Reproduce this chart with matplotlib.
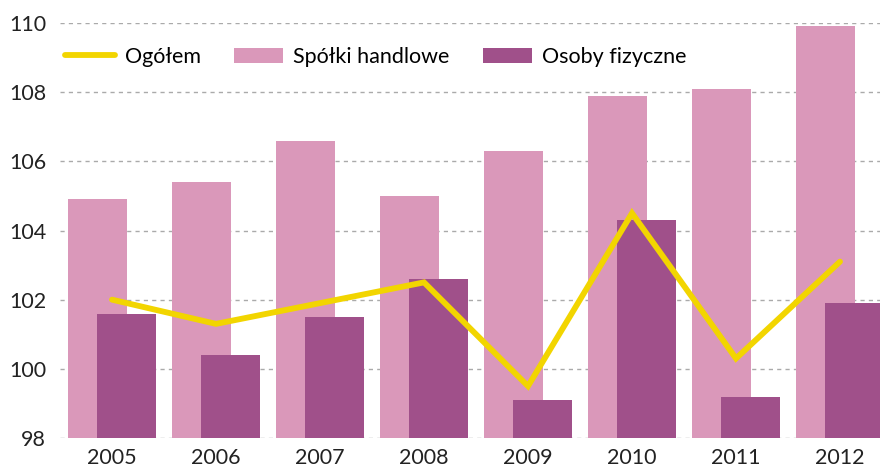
import matplotlib
matplotlib.use("Agg")
import matplotlib.pyplot as plt
import numpy as np

years = ["2005", "2006", "2007", "2008", "2009", "2010", "2011", "2012"]
spolki = [104.9, 105.4, 106.6, 105.0, 106.3, 107.9, 108.1, 109.9]
osoby = [101.6, 100.4, 101.5, 102.6, 99.1, 104.3, 99.2, 101.9]
ogolem = [102.0, 101.3, 101.9, 102.5, 99.5, 104.5, 100.3, 103.1]
yticks = [98, 100, 102, 104, 106, 108, 110]

plt.rcParams['font.family'] = ['Lato', 'DejaVu Sans']

W, H = 880, 468
fig = plt.figure(figsize=(W / 100, H / 100), dpi=100)
ax = fig.add_axes([60 / W, 30 / H, 1 - 60 / W, (438 - 23) / H])

x = np.arange(len(years))
bw = 0.567
off = 0.144
pink = "#DA98BA"
purple = "#A0508A"
yellow = "#F2D500"

b1 = ax.bar(x - off, [v - 98 for v in spolki], bw, bottom=98, color=pink, label="Spółki handlowe", zorder=2)
b2 = ax.bar(x + off, [v - 98 for v in osoby], bw, bottom=98, color=purple, label="Osoby fizyczne", zorder=3)
l1, = ax.plot(x, ogolem, color=yellow, lw=4.2, solid_capstyle='round', solid_joinstyle='miter', label="Ogółem", zorder=4)

ax.set_ylim(98, 110)
ax.set_xlim(-0.5, (W - 60) / 104 - 0.5)
ax.set_yticks(yticks)
ax.set_yticklabels([str(t) for t in yticks])
ax.set_xticks(x)
ax.set_xticklabels(years)
ax.tick_params(axis='both', length=0, labelsize=15.5, colors='#222222')
ax.tick_params(axis='y', pad=10)
ax.tick_params(axis='x', pad=7)
for s in ax.spines.values():
    s.set_visible(False)
ax.yaxis.grid(True, color='#aaaaaa', linestyle=(0, (3, 3)), lw=1.0, zorder=0)
ax.set_axisbelow(True)

leg = ax.legend([l1, b1, b2], ["Ogółem", "Spółki handlowe", "Osoby fizyczne"],
                ncol=3, frameon=False, fontsize=15.5,
                loc='center left', bbox_to_anchor=(46 / W, 1 - 57 / H),
                bbox_transform=fig.transFigure,
                handlelength=2.3, handleheight=0.75, handletextpad=0.45, columnspacing=1.55)

fig.savefig("out.png", dpi=100)
